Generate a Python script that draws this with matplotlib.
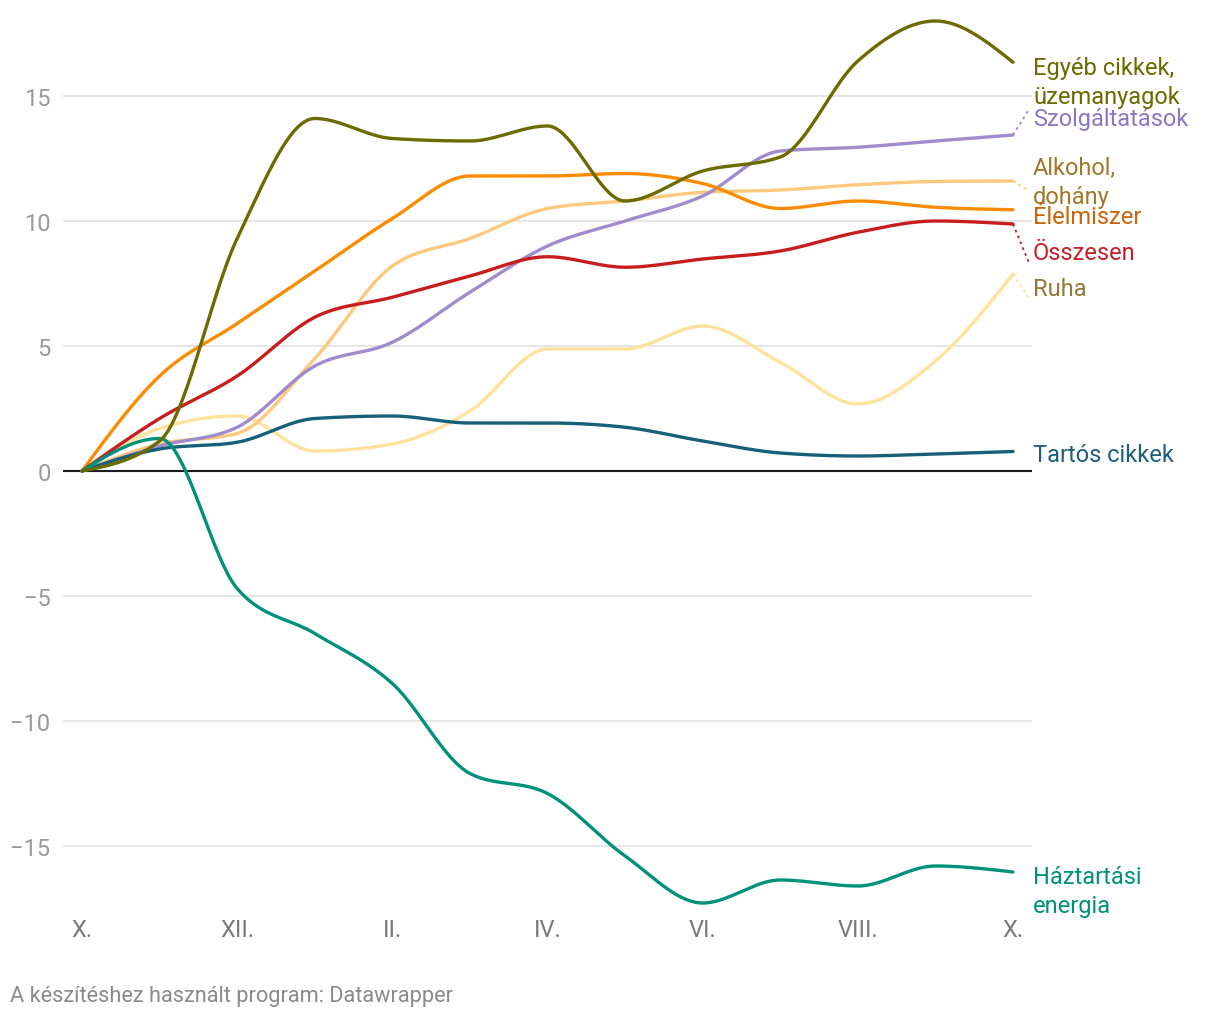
import numpy as np
import matplotlib
matplotlib.use("Agg")
import matplotlib.pyplot as plt

plt.rcParams["font.family"] = ["Roboto", "DejaVu Sans"]

months = ["X.", "XI.", "XII.", "I.", "II.", "III.", "IV.", "V.", "VI.", "VII.", "VIII.", "IX.", "X."]
tick_labels = ["X.", "XII.", "II.", "IV.", "VI.", "VIII.", "X."]

ruha = [0, 1.7, 2.2, 0.8, 1.08, 2.4, 4.88, 4.88, 5.8, 4.35, 2.68, 4.4, 7.88]
alkohol = [0, 1.08, 1.5, 4.5, 8.2, 9.3, 10.5, 10.8, 11.15, 11.24, 11.45, 11.58, 11.6]
szolg = [0, 1.0, 1.75, 4.2, 5.15, 7.15, 9.0, 10.0, 11.0, 12.8, 12.95, 13.2, 13.44]
elelmiszer = [0, 3.8, 5.9, 8.0, 10.1, 11.8, 11.8, 11.9, 11.5, 10.5, 10.8, 10.55, 10.45]
osszesen = [0, 2.1, 3.8, 6.15, 6.95, 7.8, 8.57, 8.15, 8.48, 8.8, 9.55, 10.0, 9.88]
tartos = [0, 0.88, 1.15, 2.1, 2.2, 1.92, 1.92, 1.75, 1.2, 0.72, 0.6, 0.68, 0.78]
energia = [0, 1.3, -4.7, -6.5, -8.5, -12.1, -12.9, -15.4, -17.28, -16.36, -16.6, -15.8, -16.04]
egyeb = [0, 1.2, 9.3, 14.1, 13.3, 13.2, 13.8, 10.8, 12.0, 12.56, 16.4, 18.0, 16.35]

series = [
    ("Ruha", ruha, "#ffe39c", "#8f7a3a", 7.28),
    ("Alkohol,\ndohány", alkohol, "#ffc97d", "#a0782a", 11.56),
    ("Szolgáltatások", szolg, "#a08ccc", "#8c78c0", 14.08),
    ("Élelmiszer", elelmiszer, "#fb8c00", "#c8640a", 10.16),
    ("Összesen", osszesen, "#c71e1d", "#c8202a", 8.72),
    ("Tartós cikkek", tartos, "#18607a", "#1d5f7a", 0.64),
    ("Háztartási\nenergia", energia, "#00917a", "#00917a", -16.8),
    ("Egyéb cikkek,\nüzemanyagok", egyeb, "#6b6b00", "#6b6b00", 15.56),
]

yticks = [15, 10, 5, 0, -5, -10, -15]
ytick_labels = ["15", "10", "5", "0", "\u22125", "\u221210", "\u221215"]


def monotone(x, y, n=40):
    # d3 curveMonotoneX style cubic
    x = np.asarray(x, float)
    y = np.asarray(y, float)
    h = np.diff(x)
    s = np.diff(y) / h
    t = np.zeros(len(x))
    sgn = lambda v: -1.0 if v < 0 else 1.0
    for i in range(1, len(x) - 1):
        p = (s[i - 1] * h[i] + s[i] * h[i - 1]) / (h[i - 1] + h[i])
        t[i] = (sgn(s[i - 1]) + sgn(s[i])) * min(abs(s[i - 1]), abs(s[i]), 0.5 * abs(p))
    t[0] = (3 * s[0] - t[1]) / 2
    t[-1] = (3 * s[-1] - t[-2]) / 2
    xs, ys = [], []
    for i in range(len(x) - 1):
        u = np.linspace(0, 1, n, endpoint=(i == len(x) - 2))
        h00 = 2 * u**3 - 3 * u**2 + 1
        h10 = u**3 - 2 * u**2 + u
        h01 = -2 * u**3 + 3 * u**2
        h11 = u**3 - u**2
        xs.append(x[i] + u * h[i])
        ys.append(h00 * y[i] + h10 * h[i] * t[i] + h01 * y[i + 1] + h11 * h[i] * t[i + 1])
    return np.concatenate(xs), np.concatenate(ys)


W, H = 1220, 1020
fig = plt.figure(figsize=(W / 100, H / 100), dpi=100)
left, right, top, bottom = 63, 1032, 0, 912
ax = fig.add_axes([left / W, 1 - bottom / H, (right - left) / W, (bottom - top) / H])

step = 77.58
pad = 19 / step
ax.set_xlim(-pad, 12 + pad)
ax.set_ylim(-(bottom - 472) / 25, 472 / 25)

for v in yticks:
    if v == 0:
        ax.axhline(v, color="#1a1a1a", lw=1.5, zorder=3)
    else:
        ax.axhline(v, color="#e2e2e2", lw=1.2, zorder=0)

xv = np.arange(len(months))
for name, vals, col, tcol, ly in series:
    xs, ys = monotone(xv, vals)
    ax.plot(xs, ys, color=col, lw=2.4, solid_capstyle="round", zorder=4)
    end = vals[-1]
    if abs(end - ly) > 0.5 and "\n" not in name or name.startswith("Alkohol"):
        ax.plot([12, 12.2], [end, ly + (0.35 if ly > end else -0.35)], color=col, lw=1.3,
                ls=(0, (1.5, 2)), clip_on=False, zorder=4)
    ax.text(12 + 20 / step, ly, name, color=tcol, fontsize=17, va="center", ha="left",
            linespacing=1.3, clip_on=False)

ax.set_yticks(yticks)
ax.set_yticklabels(ytick_labels)
ax.set_xticks(np.arange(0, 13, 2))
ax.set_xticklabels(tick_labels)
ax.tick_params(axis="y", length=0, pad=9, labelsize=17, labelcolor="#9a9a9a")
ax.tick_params(axis="x", length=0, pad=5, labelsize=17, labelcolor="#7a7a7a")
for sp in ax.spines.values():
    sp.set_visible(False)

fig.text(10 / W, 1 - 997 / H, "A készítéshez használt program: Datawrapper", fontsize=15.7,
         color="#8a8a8a", va="center", ha="left")

fig.savefig("out.png", dpi=100)
